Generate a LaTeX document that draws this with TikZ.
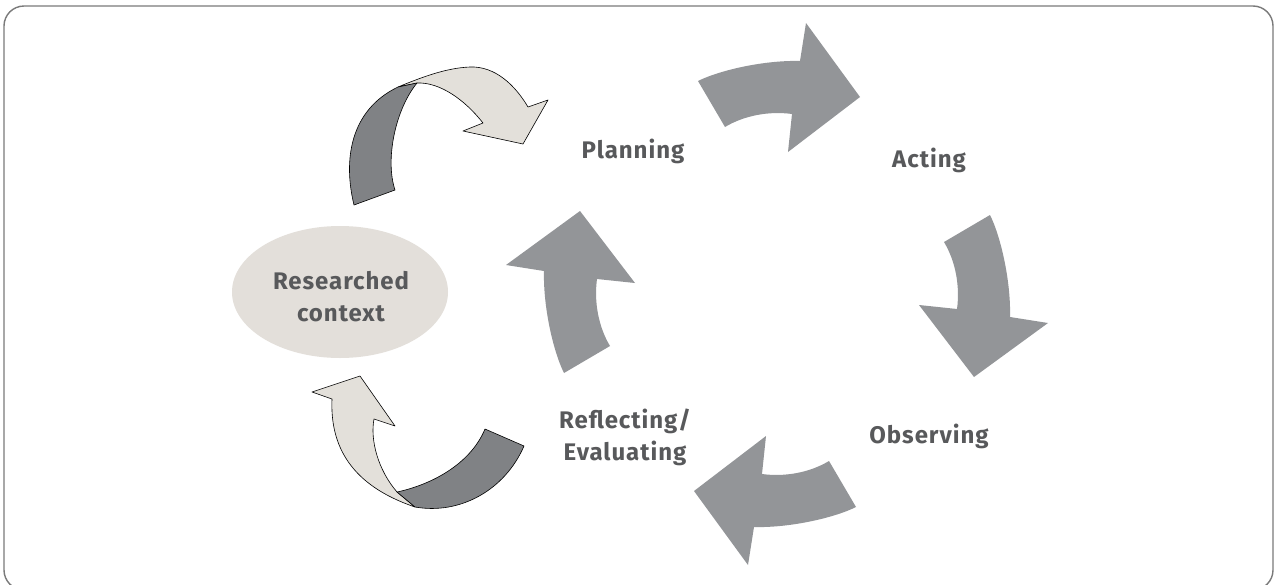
\documentclass[tikz,border=0pt]{standalone}
\usepackage{fontspec}
\setmainfont{Fira Sans}[LetterSpace=4]
\usetikzlibrary{shapes.geometric}
\definecolor{arrowgray}{HTML}{939598}
\definecolor{ribdark}{HTML}{808285}
\definecolor{riblight}{HTML}{E3E0DA}
\definecolor{ellfill}{HTML}{E3DFDA}
\definecolor{txtgray}{HTML}{58595B}
\definecolor{framegray}{HTML}{7A7A7A}
\tikzset{
  bigarrow/.style={fill=arrowgray},
  ribbonlight/.style={fill=riblight, draw=black, line width=0.6pt, line join=round},
  ribbondark/.style={fill=ribdark, draw=black, line width=0.6pt, line join=round},
  label/.style={text=txtgray, font=\bfseries\fontsize{24}{32}\selectfont, inner sep=0pt, align=center},
  frameline/.style={draw=framegray, line width=1.4pt, rounded corners=20pt}
}
\begin{document}
\begin{tikzpicture}[x=1pt,y=-1pt]
\useasboundingbox (0,0) rectangle (1274,584);
\begin{scope}
\clip (0,0) rectangle (1274,584);
\fill[white] (0,0) rectangle (1274,584);
\draw[frameline] (4,6) rectangle (1273,590);
\end{scope}

% four gray cycle arrows (same shape rotated about the cycle centre)
\foreach \a in {0,90,180,-90}{
  \begin{scope}[rotate around={\a:(777,294)}]
    \fill[bigarrow] (698,81) .. controls (720,70) and (765,60) .. (800,61)
      -- (806,23) -- (860,97) -- (788,152) -- (792,114)
      .. controls (770,111) and (745,115) .. (725,127) -- cycle;
  \end{scope}
}

% upper ribbon arrow
\draw[ribbonlight] (398,87) .. controls (420,78) and (445,68) .. (470,67)
  .. controls (495,66) and (515,85) .. (528,107)
  -- (548,100) -- (523,144) -- (463,131) -- (483,123)
  .. controls (465,100) and (440,82) .. (417,83) -- cycle;
\draw[ribbondark] (354,205) .. controls (343,160) and (350,110) .. (398,87)
  -- (417,83) .. controls (395,110) and (385,160) .. (395,190) -- cycle;

% lower ribbon arrow
\draw[ribbonlight] (332,399) .. controls (330,445) and (350,485) .. (415,507)
  -- (397,492) .. controls (378,470) and (370,440) .. (374,419)
  -- (395,426) -- (360,376) -- (312,392) -- cycle;
\draw[ribbondark] (397,492) .. controls (430,485) and (470,465) .. (485,429)
  -- (524,446) .. controls (505,490) and (460,515) .. (415,507) -- cycle;

% researched context
\node[fill=ellfill, ellipse, minimum width=216pt, minimum height=132pt, inner sep=0pt] (ctxell) at (340,292) {};
\node[label] (ctx) at (341,296.5) {Researched\\context};

\node[label, anchor=base] (plan) at (633,158) {Planning};
\node[label, anchor=base] (act) at (929,167) {Acting};
\node[label, anchor=base] (obs) at (929,443) {Observing};
\node[label] (refl) at (625,437.5) {Reflecting/\\Evaluating};
\end{tikzpicture}
\end{document}
